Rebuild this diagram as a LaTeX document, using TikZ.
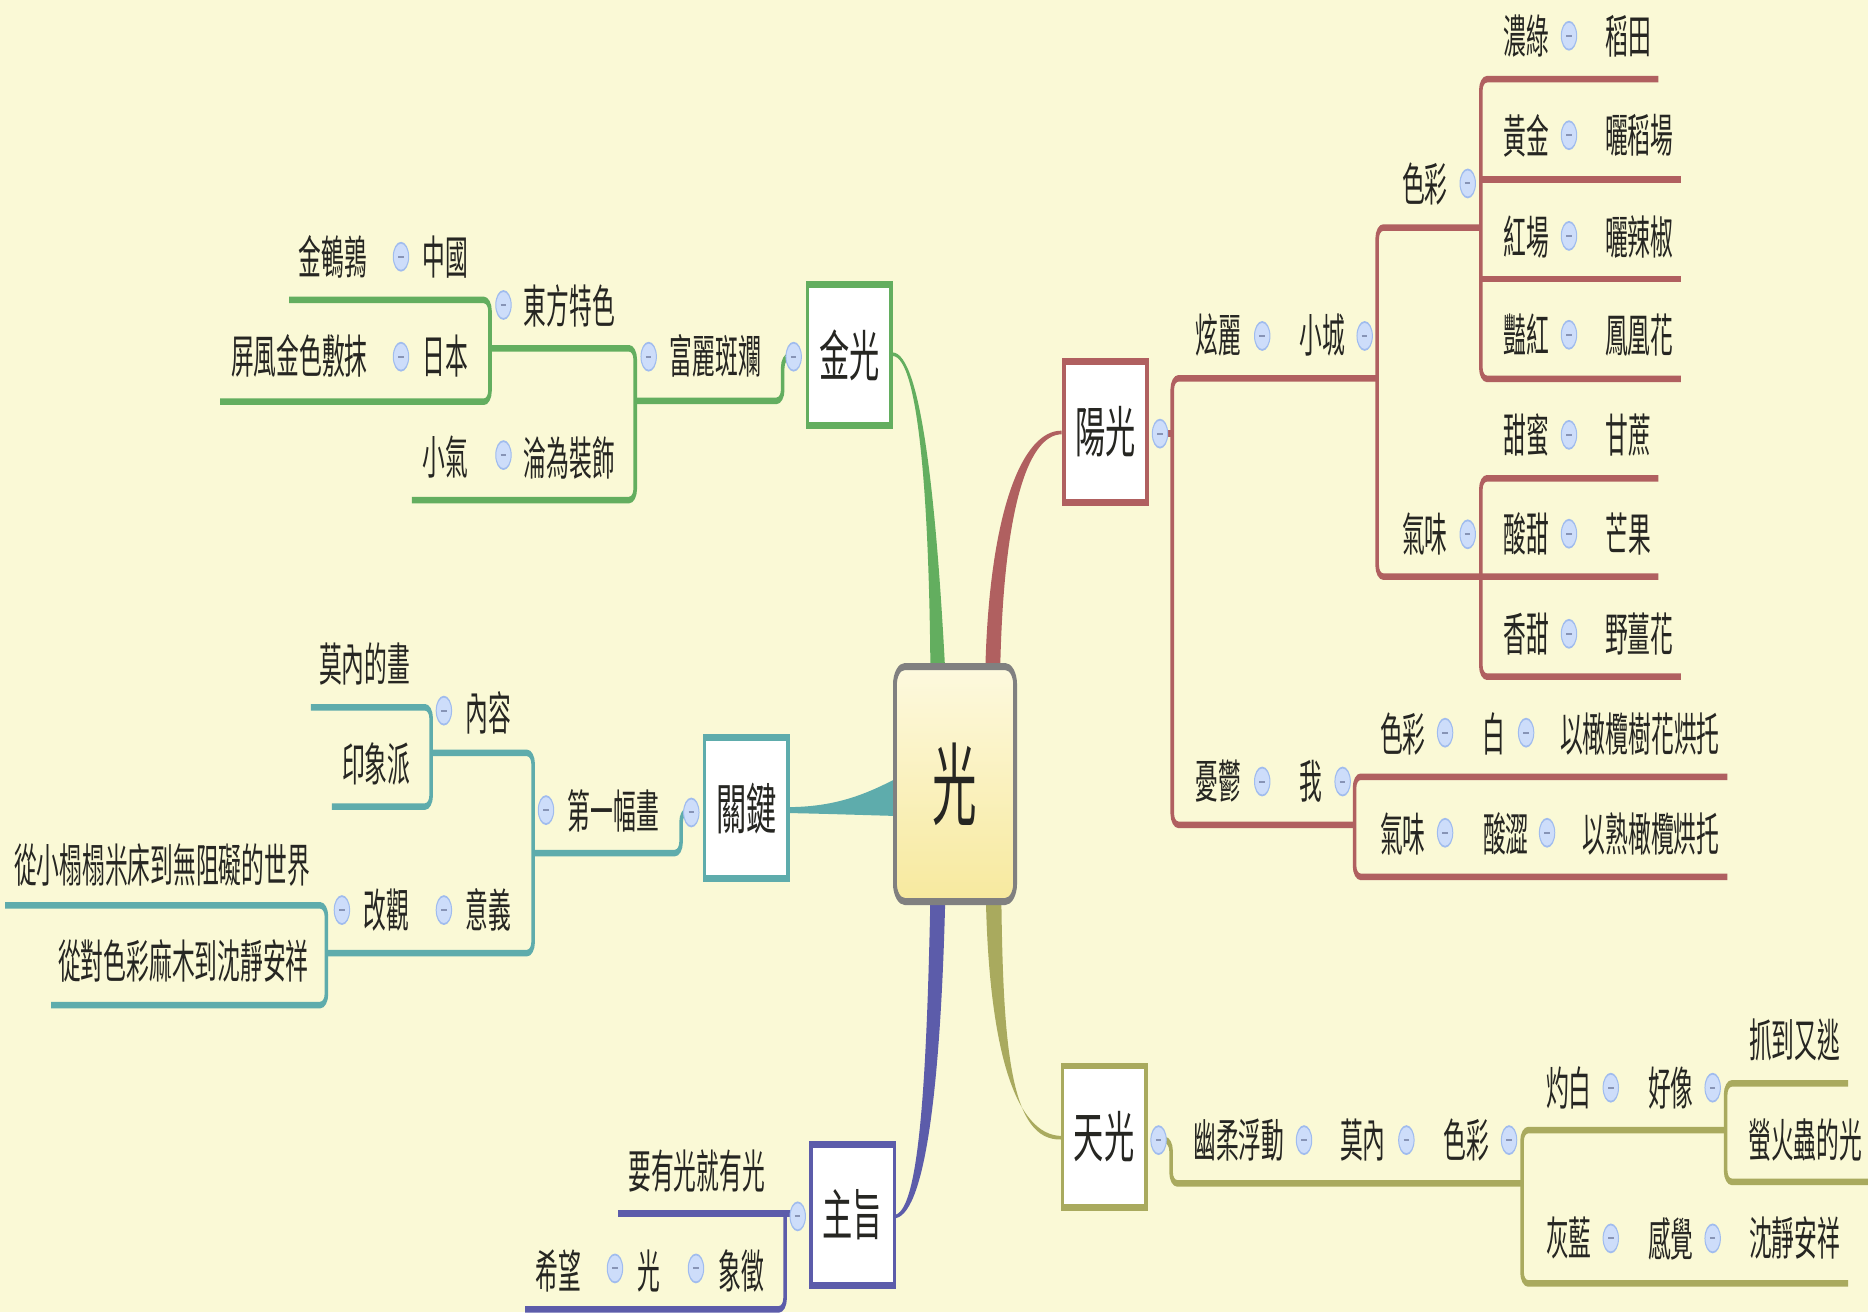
\documentclass[tikz,border=0pt]{standalone}
\usepackage{fontspec}
\newfontfamily\cjk[FakeStretch=0.9]{Noto Sans CJK TC}
\newfontfamily\cjkb{Noto Sans CJK TC}
\definecolor{bg}{RGB}{250,249,214}
\definecolor{cgreen}{RGB}{99,174,95}
\definecolor{cred}{RGB}{176,96,96}
\definecolor{cteal}{RGB}{94,172,172}
\definecolor{cblue}{RGB}{92,92,170}
\definecolor{colive}{RGB}{169,170,94}
\definecolor{ctext}{RGB}{38,38,34}
\definecolor{bubfill}{RGB}{205,221,250}
\definecolor{bubline}{RGB}{160,188,238}
\definecolor{bubdash}{RGB}{135,148,182}
\definecolor{cgray}{RGB}{128,128,128}
\definecolor{ctop}{RGB}{253,249,222}
\definecolor{cbot}{RGB}{247,233,158}
\tikzset{
  lbl/.style={inner sep=0pt, text=ctext, font=\cjk\fontsize{46}{50}\selectfont},
  tbox/.style={draw=#1, fill=white, line width=6.5pt, minimum width=151.7pt,
    minimum height=141.2pt, inner sep=0pt, text=ctext, font=\cjkb\fontsize{55}{60}\selectfont},
  bub/.style={circle, fill=bubfill, draw=bubline, line width=1.8pt, minimum size=28pt,
    inner sep=0pt, path picture={\draw[bubdash, line width=2pt]
      ([xshift=-5pt]path picture bounding box.center) -- ([xshift=5pt]path picture bounding box.center);}},
  br/.style={draw=#1, line width=6.5pt, rounded corners=11pt},
}
\begin{document}
\begin{tikzpicture}[x=1.1913pt,y=-1.1913pt]
\fill[bg] (0,0) rectangle (1568,1101.3);
\useasboundingbox (0,0) rectangle (1568,1101.3);
\begin{scope}[x=2.16600pt,y=-1.1913pt,transform canvas={xscale=0.55}]
% ---------- main tapered connectors ----------
\fill[cgreen] (749.3,295.8) .. controls (773,296.5) and (786,420) .. (793.5,565)
  -- (781,565) .. controls (780,420) and (771,299.5) .. (749.3,298.8) -- cycle;
\fill[cred] (891.2,361.5) .. controls (858,361) and (830,430) .. (827,565)
  -- (839.5,565) .. controls (842,430) and (862,365) .. (891.2,364.5) -- cycle;
\fill[cblue] (781,752) .. controls (778,900) and (772,1013) .. (752,1019.5)
  -- (752,1022.5) .. controls (778,1017) and (790,900) .. (793.5,752) -- cycle;
\fill[colive] (827.5,752) .. controls (830,880) and (852,953) .. (891,953.5)
  -- (891,956.5) .. controls (848,958) and (842,880) .. (840.5,752) -- cycle;
\fill[cteal] (663,677.5) .. controls (700,677) and (725,668) .. (755,652)
  -- (755,685) .. controls (720,684) and (690,683) .. (663,682.5) -- cycle;
% ---------- green branch ----------
\draw[br=cgreen] (242.6,251.8) -- (411.3,251.8) -- (411.3,337.2) -- (184.7,337.2);
\draw[br=cgreen] (411.3,292.4) -- (533.2,292.4) -- (533.2,419.7) -- (345.8,419.7);
\draw[br=cgreen] (533.2,336.4) -- (657,336.4) -- (657,299.4) -- (664,299.4);
% ---------- teal branch ----------
\draw[br=cteal] (261,593.7) -- (361.9,593.7) -- (361.9,677) -- (278.5,677);
\draw[br=cteal] (361.9,632) -- (447.5,632) -- (447.5,800) -- (274,800);
\draw[br=cteal] (4.3,760) -- (274,760) -- (274,843.6) -- (43,843.6);
\draw[br=cteal] (447.5,716) -- (571.7,716) -- (571.7,681) -- (578,681);
% ---------- blue branch ----------
\draw[br=cblue] (518.8,1018.5) -- (665,1018.5);
\draw[br=cblue] (659,1018.5) -- (659,1099) -- (440.7,1099);
% ---------- red branch ----------
\draw[br=cred] (978,364) -- (984,364);
\draw[br=cred] (1156,317.6) -- (984,317.6) -- (984,692.3) -- (1137,692.3);
\draw[br=cred] (1243,191) -- (1156,191) -- (1156,484) -- (1392,484);
\draw[br=cred] (1392,66.5) -- (1243,66.5) -- (1243,318) -- (1411,318);
\draw[br=cred] (1243,150.6) -- (1411,150.6);
\draw[br=cred] (1243,234) -- (1411,234);
\draw[br=cred] (1392,401.5) -- (1243,401.5) -- (1243,568) -- (1411,568);
\draw[br=cred] (1450,652) -- (1137,652) -- (1137,736) -- (1450,736);
% ---------- olive branch ----------
\draw[br=colive] (975,957) -- (983,957) -- (983,993.3) -- (1277.6,993.3);
\draw[br=colive] (1448.5,948.6) -- (1277.6,948.6) -- (1277.6,1077.3) -- (1551.4,1077.3);
\draw[br=colive] (1551.4,909.4) -- (1448.5,909.4) -- (1448.5,992) -- (1580,992);
% ---------- boxes ----------
\node[tbox=cgreen] (jinguang) at (713,297.9) {金光};
\node[tbox=cred] (yangguang) at (928,362.5) {陽光};
\node[tbox=cteal] (guanjian) at (626.5,678.3) {關鍵};
\node[tbox=cblue] (zhuzhi) at (715.8,1019.9) {主旨};
\node[tbox=colive] (tianguang) at (926.7,954.2) {天光};
\node[draw=cgray, line width=7pt, rounded corners=18pt, top color=ctop, bottom color=cbot,
  minimum width=218.5pt, minimum height=235pt, inner sep=0pt, text=ctext,
  font=\cjk\fontsize{90}{95}\selectfont] (guang) at (801.65,658.1) {光};
% ---------- bubbles ----------
\foreach \bx/\by [count=\i] in {1317/30, 1317/113.5, 1317/198, 1317/281, 1232/154,
  1059.5/282, 1145.5/282, 1317/365, 1317/448, 1317/532, 1232/448.5,
  1213/615, 1281/615, 1213/699, 1298.6/699, 1059.5/656, 1127/656,
  973.7/364, 972.5/957, 1094.6/957, 1180.5/957, 1266.7/957,
  1352.1/913, 1437.6/913, 1352.1/1039.5, 1437.6/1039.5,
  336.6/215.5, 336.6/299.4, 422.6/256, 422.6/382, 544.5/299.4, 666.2/299.4,
  372.6/596.5, 458.3/680, 580.3/682, 287/763.9, 372.6/763.9,
  516.2/1064.7, 584.2/1064.7, 669.6/1021}
  \node[bub] (bub\i) at (\bx,\by) {};
% ---------- labels (right) ----------
\node[lbl] (nonglv) at (1281,30) {濃綠};
\node[lbl] (daotian) at (1367,30) {稻田};
\node[lbl] (huangjin) at (1281,114) {黃金};
\node[lbl] (shaichang) at (1376,114) {曬稻場};
\node[lbl] (hongchang) at (1281,199) {紅場};
\node[lbl] (lajiao) at (1376,199) {曬辣椒};
\node[lbl] (yanhong) at (1281,281) {豔紅};
\node[lbl] (fenghuang) at (1376,281) {鳳凰花};
\node[lbl] (secai1) at (1196,154) {色彩};
\node[lbl] (xuanli) at (1023,281) {炫麗};
\node[lbl] (xiaocheng) at (1110,281) {小城};
\node[lbl] (tianmi) at (1281,365) {甜蜜};
\node[lbl] (ganzhe) at (1367,365) {甘蔗};
\node[lbl] (suantian) at (1281,448.5) {酸甜};
\node[lbl] (mangguo) at (1367,448.5) {芒果};
\node[lbl] (xiangtian) at (1281,532) {香甜};
\node[lbl] (yejiang) at (1376,532) {野薑花};
\node[lbl] (qiwei1) at (1196,448.5) {氣味};
\node[lbl] (secai2) at (1177.5,616) {色彩};
\node[lbl] (bai) at (1254,616) {白};
\node[lbl] (ganlan1) at (1376.5,616) {以橄欖樹花烘托};
\node[lbl] (qiwei2) at (1177.5,700) {氣味};
\node[lbl] (suanse) at (1264,700) {酸澀};
\node[lbl] (ganlan2) at (1386,700) {以熟橄欖烘托};
\node[lbl] (youyu) at (1023,656) {憂鬱};
\node[lbl] (wo) at (1100,656) {我};
\node[lbl] (yourou) at (1040,957) {幽柔浮動};
\node[lbl] (monei1) at (1144,957) {莫內};
\node[lbl] (secai3) at (1230.7,957) {色彩};
\node[lbl] (zhuobai) at (1317,913) {灼白};
\node[lbl] (haoxiang) at (1402.6,913) {好像};
\node[lbl] (zhuadao) at (1506.5,873) {抓到又逃};
\node[lbl] (yinghuo) at (1515.3,957) {螢火蟲的光};
\node[lbl] (huilan) at (1317,1039.5) {灰藍};
\node[lbl] (ganjue) at (1402.6,1039.5) {感覺};
\node[lbl] (chenjing) at (1506.5,1039.5) {沈靜安祥};
% ---------- labels (left) ----------
\node[lbl] (anchun) at (279.2,216) {金鵪鶉};
\node[lbl] (zhongguo) at (374,216) {中國};
\node[lbl] (pingfeng) at (251.3,298.7) {屏風金色敷抹};
\node[lbl] (riben) at (374,298.7) {日本};
\node[lbl] (dongfang) at (478,256.7) {東方特色};
\node[lbl] (xiaoqi) at (374,384) {小氣};
\node[lbl] (lunwei) at (478,384) {淪為裝飾};
\node[lbl] (fuli) at (600.5,298.7) {富麗斑斕};
\node[lbl] (moneihua) at (306,557.5) {莫內的畫};
\node[lbl] (neirong) at (410,598) {內容};
\node[lbl] (yinxiang) at (315.8,641.3) {印象派};
\node[lbl] (diyifu) at (515,681) {第一幅畫};
\node[lbl] (congxiao) at (136,726) {從小榻榻米床到無阻礙的世界};
\node[lbl] (gaiguan) at (324.4,763.8) {改觀};
\node[lbl] (yiyi) at (410,763.8) {意義};
\node[lbl] (congdui) at (154,807) {從對色彩麻木到沈靜安祥};
\node[lbl] (yaoyou) at (584.8,982.8) {要有光就有光};
\node[lbl] (xiwang) at (468.7,1066.8) {希望};
\node[lbl] (guang2) at (545,1066.8) {光};
\node[lbl] (xiangzheng) at (622,1066.8) {象徵};
\end{scope}
\end{tikzpicture}
\end{document}
